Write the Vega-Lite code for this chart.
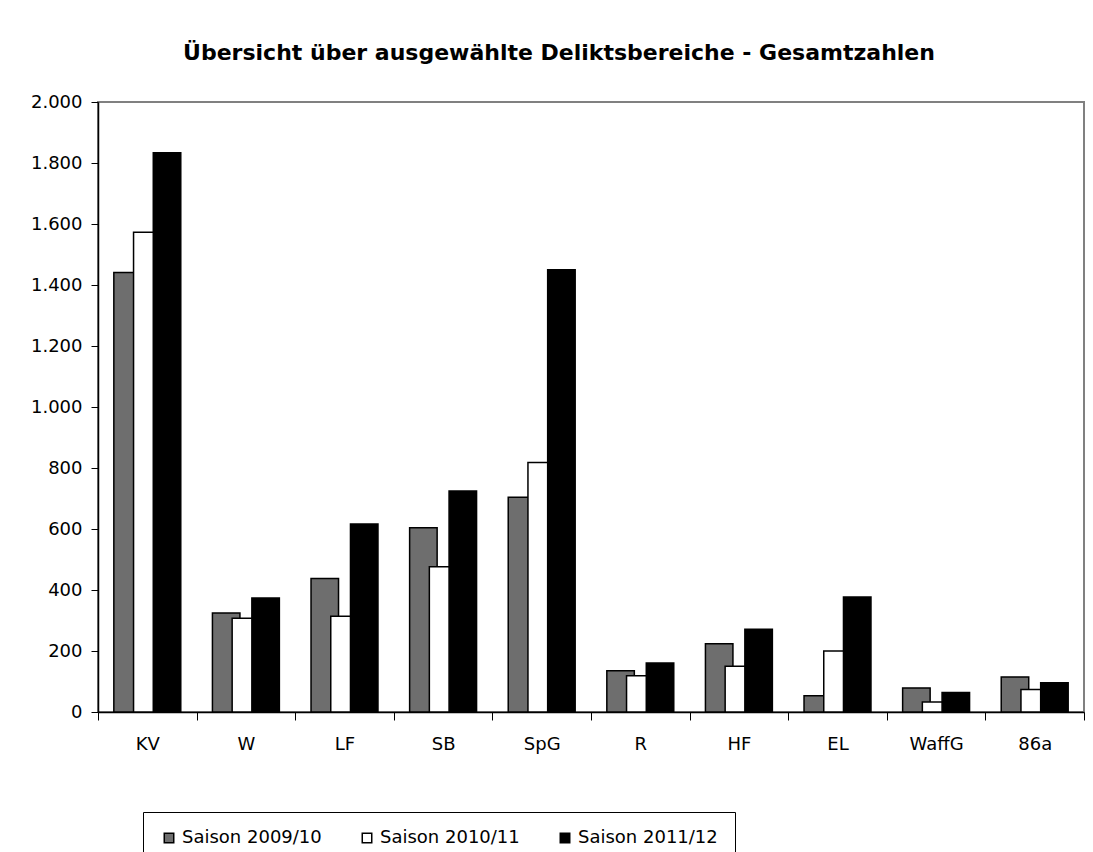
{
  "$schema": "https://vega.github.io/schema/vega-lite/v6.json",
  "width": 986,
  "height": 610,
  "autosize": {"type": "none"},
  "padding": {"left": 98, "top": 102, "right": 9, "bottom": 140},
  "background": "white",
  "config": {
    "locale": {"number": {"decimal": ",", "thousands": ".", "grouping": [3], "currency": ["", " €"]}},
    "view": {"stroke": "#808080", "strokeWidth": 2},
    "font": "DejaVu Sans"
  },
  "title": {
    "text": "Übersicht über ausgewählte Deliktsbereiche - Gesamtzahlen",
    "font": "DejaVu Sans",
    "fontSize": 22,
    "fontWeight": "bold",
    "color": "black",
    "anchor": "middle",
    "dx": -32,
    "offset": 11,
    "baseline": "alphabetic"
  },
  "data": {
    "values": [
      {"Delikt": "KV", "Saison": "Saison 2009/10", "Anzahl": 1441},
      {"Delikt": "W", "Saison": "Saison 2009/10", "Anzahl": 325},
      {"Delikt": "LF", "Saison": "Saison 2009/10", "Anzahl": 438},
      {"Delikt": "SB", "Saison": "Saison 2009/10", "Anzahl": 604},
      {"Delikt": "SpG", "Saison": "Saison 2009/10", "Anzahl": 704},
      {"Delikt": "R", "Saison": "Saison 2009/10", "Anzahl": 135},
      {"Delikt": "HF", "Saison": "Saison 2009/10", "Anzahl": 224},
      {"Delikt": "EL", "Saison": "Saison 2009/10", "Anzahl": 53},
      {"Delikt": "WaffG", "Saison": "Saison 2009/10", "Anzahl": 79},
      {"Delikt": "86a", "Saison": "Saison 2009/10", "Anzahl": 115},
      {"Delikt": "KV", "Saison": "Saison 2010/11", "Anzahl": 1573},
      {"Delikt": "W", "Saison": "Saison 2010/11", "Anzahl": 307},
      {"Delikt": "LF", "Saison": "Saison 2010/11", "Anzahl": 314},
      {"Delikt": "SB", "Saison": "Saison 2010/11", "Anzahl": 476},
      {"Delikt": "SpG", "Saison": "Saison 2010/11", "Anzahl": 818},
      {"Delikt": "R", "Saison": "Saison 2010/11", "Anzahl": 119},
      {"Delikt": "HF", "Saison": "Saison 2010/11", "Anzahl": 150},
      {"Delikt": "EL", "Saison": "Saison 2010/11", "Anzahl": 200},
      {"Delikt": "WaffG", "Saison": "Saison 2010/11", "Anzahl": 33},
      {"Delikt": "86a", "Saison": "Saison 2010/11", "Anzahl": 74},
      {"Delikt": "KV", "Saison": "Saison 2011/12", "Anzahl": 1834},
      {"Delikt": "W", "Saison": "Saison 2011/12", "Anzahl": 374},
      {"Delikt": "LF", "Saison": "Saison 2011/12", "Anzahl": 616},
      {"Delikt": "SB", "Saison": "Saison 2011/12", "Anzahl": 725},
      {"Delikt": "SpG", "Saison": "Saison 2011/12", "Anzahl": 1450},
      {"Delikt": "R", "Saison": "Saison 2011/12", "Anzahl": 161},
      {"Delikt": "HF", "Saison": "Saison 2011/12", "Anzahl": 271},
      {"Delikt": "EL", "Saison": "Saison 2011/12", "Anzahl": 377},
      {"Delikt": "WaffG", "Saison": "Saison 2011/12", "Anzahl": 64},
      {"Delikt": "86a", "Saison": "Saison 2011/12", "Anzahl": 96}
    ]
  },
  "mark": {"type": "bar", "width": 27.5, "stroke": "black", "strokeWidth": 1.5},
  "encoding": {
    "x": {
      "field": "Delikt",
      "type": "nominal",
      "sort": null,
      "scale": {"paddingInner": 0, "paddingOuter": 0},
      "axis": {
        "title": null,
        "labelAngle": 0,
        "tickBand": "extent",
        "tickSize": 8,
        "tickColor": "black",
        "domainColor": "black",
        "domainWidth": 1.5,
        "labelFont": "DejaVu Sans",
        "labelFontSize": 18,
        "labelColor": "black",
        "labelPadding": 15
      }
    },
    "xOffset": {
      "field": "Saison",
      "type": "nominal",
      "sort": null,
      "scale": {"paddingInner": 0, "paddingOuter": 1.31}
    },
    "y": {
      "field": "Anzahl",
      "type": "quantitative",
      "scale": {"domain": [0, 2000], "nice": false},
      "axis": {
        "title": null,
        "grid": false,
        "values": [0, 200, 400, 600, 800, 1000, 1200, 1400, 1600, 1800, 2000],
        "format": ",d",
        "tickSize": 7,
        "tickColor": "black",
        "domainColor": "black",
        "domainWidth": 1.5,
        "labelFont": "DejaVu Sans",
        "labelFontSize": 18,
        "labelColor": "black",
        "labelPadding": 9
      }
    },
    "fill": {
      "field": "Saison",
      "type": "nominal",
      "sort": null,
      "scale": {"domain": ["Saison 2009/10", "Saison 2010/11", "Saison 2011/12"], "range": ["#6e6e6e", "#ffffff", "#000000"]},
      "legend": {
        "title": null,
        "orient": "none",
        "legendX": 45,
        "legendY": 710,
        "direction": "horizontal",
        "strokeColor": "black",
        "fillColor": "white",
        "padding": 17,
        "symbolType": "square",
        "symbolSize": 90,
        "symbolStrokeColor": "black",
        "symbolStrokeWidth": 1.5,
        "labelFont": "DejaVu Sans",
        "labelFontSize": 18,
        "labelColor": "black",
        "labelOffset": 4,
        "columnPadding": 36
      }
    }
  }
}
